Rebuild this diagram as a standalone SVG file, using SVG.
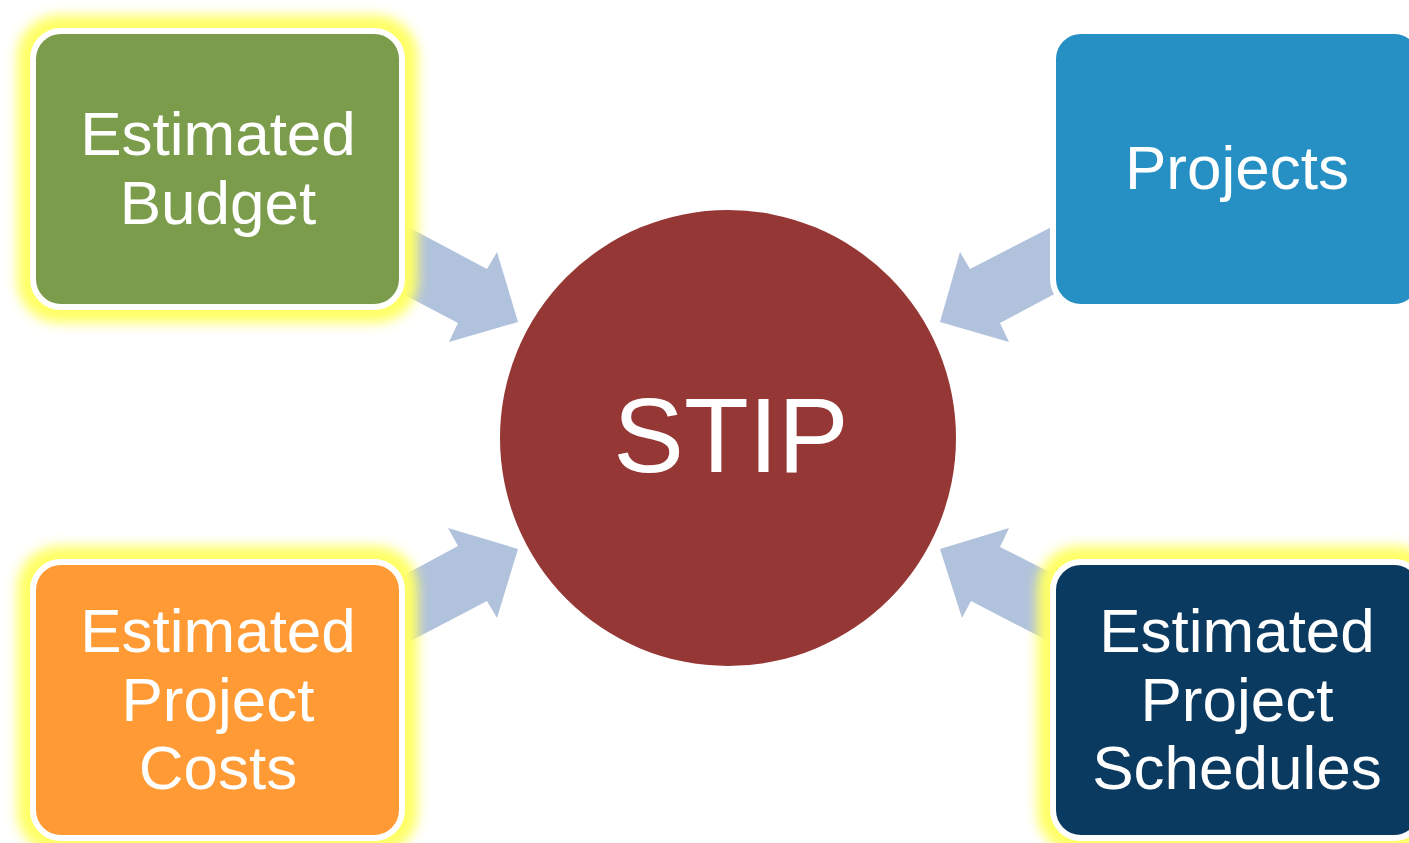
<svg xmlns="http://www.w3.org/2000/svg" width="1409" height="843" viewBox="0 0 1409 843">
  <defs>
    <filter id="glow" x="-20%" y="-20%" width="140%" height="140%">
      <feGaussianBlur stdDeviation="6"/>
    </filter>
    <style>
      .box { stroke: #FFFFFF; stroke-width: 6; }
      .glow { fill: #FFFF66; filter: url(#glow); }
      .lbl { font-family: "Liberation Sans", Arial, sans-serif; font-size: 62px; fill: #FFFFFF; text-anchor: middle; }
      .arrow { fill: #B1C2DD; }
    </style>
  </defs>
  <rect width="1409" height="843" fill="#FFFFFF"/>

  <g id="connectors">
    <polygon class="arrow" points="380,212 487,269 497,252 518,322 449,342 458,323 380,282"/>
    <polygon class="arrow" points="1075,215 970,269 960,252 940,322 1009,342 1000,323 1075,283"/>
    <polygon class="arrow" points="380,588 458,546 448,528 518,549 497,618 487,601 380,657"/>
    <polygon class="arrow" points="1075,585 1000,547 1009,528 940,549 962,618 971,601 1075,655"/>
  </g>

  <g id="stip">
    <circle cx="728" cy="438" r="228" fill="#953735"/>
    <text class="lbl" x="731" y="472" style="font-size:106px">STIP</text>
  </g>

  <g id="estimated-budget">
    <rect class="glow" x="17" y="15" width="401" height="308" rx="42"/>
    <rect class="box" x="33" y="31" width="369" height="276" rx="28" fill="#7B9C4A"/>
    <text class="lbl" x="218" y="155">Estimated</text>
    <text class="lbl" x="218" y="224">Budget</text>
  </g>

  <g id="projects">
    <rect class="box" x="1053" y="31" width="369" height="276" rx="28" fill="#268FC3"/>
    <text class="lbl" x="1237" y="189">Projects</text>
  </g>

  <g id="estimated-project-costs">
    <rect class="glow" x="17" y="546" width="401" height="308" rx="42"/>
    <rect class="box" x="33" y="562" width="369" height="276" rx="28" fill="#FF9A35"/>
    <text class="lbl" x="218" y="652">Estimated</text>
    <text class="lbl" x="218" y="721">Project</text>
    <text class="lbl" x="218" y="789">Costs</text>
  </g>

  <g id="estimated-project-schedules">
    <rect class="glow" x="1037" y="546" width="401" height="308" rx="42"/>
    <rect class="box" x="1053" y="562" width="369" height="276" rx="28" fill="#0B3A61"/>
    <text class="lbl" x="1237" y="652">Estimated</text>
    <text class="lbl" x="1237" y="721">Project</text>
    <text class="lbl" x="1237" y="789">Schedules</text>
  </g>
</svg>
